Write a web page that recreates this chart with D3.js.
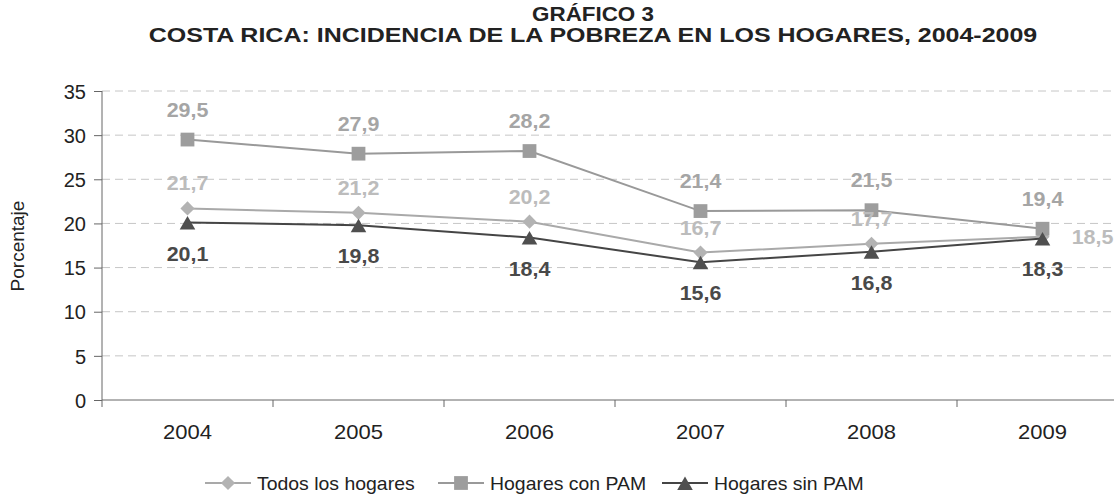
<!DOCTYPE html>
<html>
<head>
<meta charset="utf-8">
<script src="https://cdn.jsdelivr.net/npm/d3@7"></script>
<style>
  body { margin: 0; background: #fff; }
  svg { font-family: "Liberation Sans", Arial, sans-serif; }
</style>
</head>
<body>
<div id="chart"></div>
<script>
const years = ['2004', '2005', '2006', '2007', '2008', '2009']
const todos = [21.7, 21.2, 20.2, 16.7, 17.7, 18.5]
const conPam = [29.5, 27.9, 28.2, 21.4, 21.5, 19.4]
const sinPam = [20.1, 19.8, 18.4, 15.6, 16.8, 18.3]
const yTicks = [0, 5, 10, 15, 20, 25, 30, 35]

const width = 1114, height = 496
const stretch = 'scale(1.1,1)' // the original text is a bit wide
const textColor = '#222'

const svg = d3.select('#chart').append('svg')
    .attr('width', width)
    .attr('height', height)

// plot area runs past the right edge, as in the original
const x = d3.scaleBand().domain(years).range([102, 1128])
const y = d3.scaleLinear().domain([0, 35]).range([400, 91])

const addText = (sel, px, py, txt, size, opts = {}) => {
  return sel.append('g')
      .attr('transform', 'translate(' + px + ',' + py + ')')
      .append('text')
      .attr('transform', opts.sx ? 'scale(' + opts.sx + ',1)' : stretch)
      .attr('text-anchor', opts.anchor || 'start')
      .attr('font-size', size)
      .attr('font-weight', opts.bold ? 'bold' : 'normal')
      .attr('fill', opts.fill || textColor)
      .text(txt)
}

addText(svg, 593, 21, 'GRÁFICO 3', 20, { anchor: 'middle', bold: true, sx: 1.12 })
addText(svg, 593, 42, 'COSTA RICA: INCIDENCIA DE LA POBREZA EN LOS HOGARES, 2004-2009', 20, { anchor: 'middle', bold: true, sx: 1.25 })

// gridlines
svg.append('g')
    .selectAll('line')
    .data(yTicks.filter(d => d > 0))
    .join('line')
    .attr('x1', 102).attr('x2', width)
    .attr('y1', d => y(d)).attr('y2', d => y(d))
    .attr('stroke', '#c6c6c6')
    .attr('stroke-dasharray', '8,5')

const yAxis = svg.append('g')
    .attr('transform', 'translate(102,0)')
    .call(d3.axisLeft(y).tickValues(yTicks).tickSize(8).tickPadding(8))
yAxis.select('.domain').attr('stroke', '#666').attr('d', 'M0,' + y(35) + 'V' + y(0))
yAxis.selectAll('.tick line').attr('stroke', '#666')
yAxis.selectAll('text')
    .attr('font-size', 20).attr('fill', textColor)
    .attr('font-family', '"Liberation Sans", Arial, sans-serif')
    .attr('dy', '0.36em')

const xAxis = svg.append('g').attr('transform', 'translate(0,400)')
xAxis.append('line')
    .attr('x1', 102).attr('x2', width).attr('stroke', '#666')
xAxis.selectAll('.tk')
    .data(years.map(d => x(d)).concat([x('2009') + x.bandwidth()]))
    .join('line')
    .attr('x1', d => d).attr('x2', d => d)
    .attr('y1', 0).attr('y2', 7)
    .attr('stroke', '#666')
years.forEach(d => addText(xAxis, x(d) + x.bandwidth() / 2, 39, d, 20, { anchor: 'middle' }))

svg.append('text')
    .attr('transform', 'translate(24,246) rotate(-90)')
    .attr('text-anchor', 'middle')
    .attr('font-size', 19).attr('fill', textColor)
    .text('Porcentaje')

const cx = i => x(years[i]) + x.bandwidth() / 2
const line = d3.line().x((d, i) => cx(i)).y(d => y(d))

const diamond = d3.symbol().type(d3.symbolSquare).size(100)
const square = d3.symbol().type(d3.symbolSquare).size(190)
const triangle = d3.symbol().type(d3.symbolTriangle).size(105)

const series = [
  { name: 'Todos los hogares', values: todos, line: '#a9a9a9', fill: '#b3b3b3', label: '#bcbcbc',
    shape: diamond, rot: 45, shift: 0, labelDy: -18 },
  { name: 'Hogares con PAM', values: conPam, line: '#999', fill: '#9d9d9d', label: '#a5a5a5',
    shape: square, rot: 0, shift: 0, labelDy: -23 },
  { name: 'Hogares sin PAM', values: sinPam, line: '#454545', fill: '#4f4f4f', label: '#494949',
    shape: triangle, rot: 0, shift: 2.5, labelDy: 38 }
]

const fmt = v => d3.format('.1f')(v).replace('.', ',')

series.forEach(s => {
  const g = svg.append('g')
  g.append('path')
      .datum(s.values)
      .attr('d', line)
      .attr('fill', 'none')
      .attr('stroke', s.line)
      .attr('stroke-width', 2)
  g.selectAll('path.m')
      .data(s.values)
      .join('path')
      .attr('class', 'm')
      .attr('d', s.shape)
      .attr('transform', (d, i) => 'translate(' + cx(i) + ',' + (y(d) + s.shift) + ') rotate(' + s.rot + ')')
      .attr('fill', s.fill)
})

series.forEach((s, k) => {
  const g = svg.append('g')
  s.values.forEach((d, i) => {
    const last = k === 0 && i === s.values.length - 1
    addText(g, last ? cx(i) + 50 : cx(i), last ? y(d) + 7 : y(d) + s.labelDy,
        fmt(d), 19.5, { anchor: 'middle', bold: true, fill: s.label })
  })
})

// legend
const legendX = [205, 438, 662]
series.forEach((s, i) => {
  const lg = svg.append('g').attr('transform', 'translate(' + legendX[i] + ',483)')
  lg.append('line').attr('x1', 0).attr('x2', 46)
      .attr('stroke', s.line).attr('stroke-width', 2)
  lg.append('path')
      .attr('d', s.shape)
      .attr('transform', 'translate(23,' + s.shift + ') rotate(' + s.rot + ')')
      .attr('fill', s.fill)
  addText(lg, 52, 7, s.name, 18, { sx: 1.08 })
})
</script>
</body>
</html>
